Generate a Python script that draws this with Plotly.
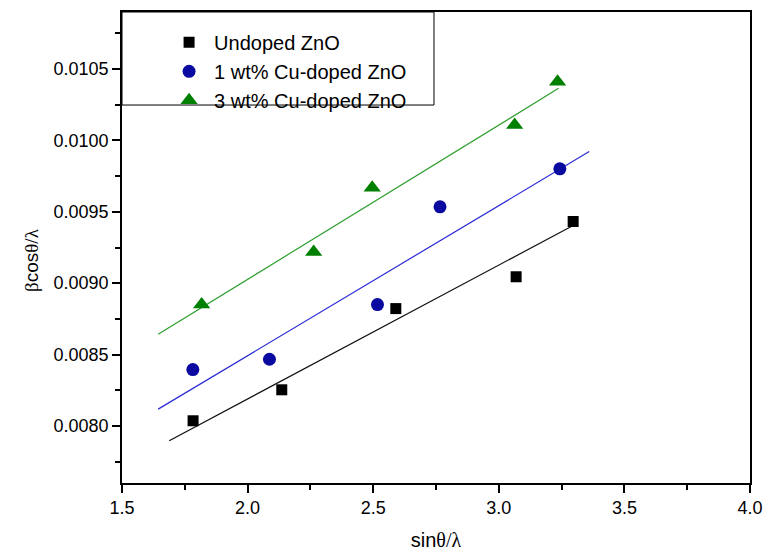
import plotly.graph_objects as go

# ---- data ----
undoped_x = [1.783, 2.136, 2.590, 3.069, 3.296]
undoped_y = [0.008036, 0.008253, 0.008822, 0.009045, 0.009432]

cu1_x = [1.782, 2.087, 2.517, 2.766, 3.243]
cu1_y = [0.008395, 0.008467, 0.008850, 0.009535, 0.009801]

cu3_x = [1.817, 2.263, 2.496, 3.063, 3.234]
cu3_y = [0.008850, 0.009218, 0.009668, 0.010108, 0.010411]

# linear-fit line end points
fit_undoped_x = [1.688, 3.296]
fit_undoped_y = [0.0078965, 0.0094042]
fit_cu1_x = [1.644, 3.360]
fit_cu1_y = [0.0081175, 0.009922]
fit_cu3_x = [1.644, 3.238]
fit_cu3_y = [0.008642, 0.010365]

series_names = ["Undoped ZnO", "1 wt% Cu-doped ZnO", "3 wt% Cu-doped ZnO"]

x_ticks = [1.5, 2.0, 2.5, 3.0, 3.5, 4.0]
y_ticks = [0.0080, 0.0085, 0.0090, 0.0095, 0.0100, 0.0105]

FONT = "Liberation Sans, Arial, sans-serif"
SERIF = "Liberation Serif, Times New Roman, serif"

fig = go.Figure()

# fit lines
fig.add_trace(go.Scatter(x=fit_undoped_x, y=fit_undoped_y, mode="lines",
                         line=dict(color="#111111", width=1.2), showlegend=False, hoverinfo="skip"))
fig.add_trace(go.Scatter(x=fit_cu1_x, y=fit_cu1_y, mode="lines",
                         line=dict(color="#2a2ad6", width=1.2), showlegend=False, hoverinfo="skip"))
fig.add_trace(go.Scatter(x=fit_cu3_x, y=fit_cu3_y, mode="lines",
                         line=dict(color="#2e9e2e", width=1.2), showlegend=False, hoverinfo="skip"))

# data points
fig.add_trace(go.Scatter(x=undoped_x, y=undoped_y, mode="markers", name=series_names[0],
                         marker=dict(symbol="square", size=11, color="#000000")))
fig.add_trace(go.Scatter(x=cu1_x, y=cu1_y, mode="markers", name=series_names[1],
                         marker=dict(symbol="circle", size=13, color="#0a0aa0")))
fig.add_trace(go.Scatter(x=cu3_x, y=cu3_y, mode="markers", name=series_names[2],
                         marker=dict(symbol="triangle-up", size=15, color="#008000")))

# legend frame
fig.add_shape(type="rect", xref="paper", yref="paper",
              x0=0, x1=0.4968, y0=0.8025, y1=1.0,
              line=dict(color="black", width=1), fillcolor="rgba(0,0,0,0)")

axis_common = dict(
    showline=True, linecolor="black", linewidth=1.5, mirror=True,
    ticks="outside", ticklen=8, tickwidth=1.5, tickcolor="black",
    showgrid=False, zeroline=False, automargin=False,
    tickfont=dict(family=FONT, size=18, color="black"),
)

fig.update_xaxes(
    range=[1.5, 4.0], tickvals=x_ticks, ticktext=[f"{v:.1f}" for v in x_ticks],
    minor=dict(ticks="outside", ticklen=5, tickwidth=1.5, tickcolor="black", dtick=0.25, showgrid=False),
    title=dict(text=f"sin<span style='font-family:{SERIF}'>θ/λ</span>",
               font=dict(family=FONT, size=20, color="black"), standoff=16),
    **axis_common,
)
fig.update_yaxes(
    range=[0.0076, 0.0109], tickvals=y_ticks, ticktext=[f"{v:.4f}" for v in y_ticks],
    minor=dict(ticks="outside", ticklen=5, tickwidth=1.5, tickcolor="black", dtick=0.00025, tick0=0.0075, showgrid=False),
    **axis_common,
)

# y-axis title placed as an annotation
fig.add_annotation(
    text=f"<span style='font-family:{SERIF}'>β</span>cos<span style='font-family:{SERIF}'>θ/λ</span>",
    xref="paper", yref="paper", x=-0.1433, y=0.4735, xanchor="center", yanchor="middle",
    textangle=-90, showarrow=False,
    font=dict(family=FONT, size=19, color="black"),
)

fig.update_layout(
    width=764, height=552,
    margin=dict(l=122, r=14, t=12, b=69),
    paper_bgcolor="white", plot_bgcolor="white",
    font=dict(family=FONT, color="black"),
    legend=dict(x=0.067, y=0.977, xanchor="left", yanchor="top",
                bgcolor="rgba(0,0,0,0)", borderwidth=0,
                font=dict(family=FONT, size=20, color="black"),
                tracegroupgap=0, itemwidth=40),
)

fig.write_html("out.html")
